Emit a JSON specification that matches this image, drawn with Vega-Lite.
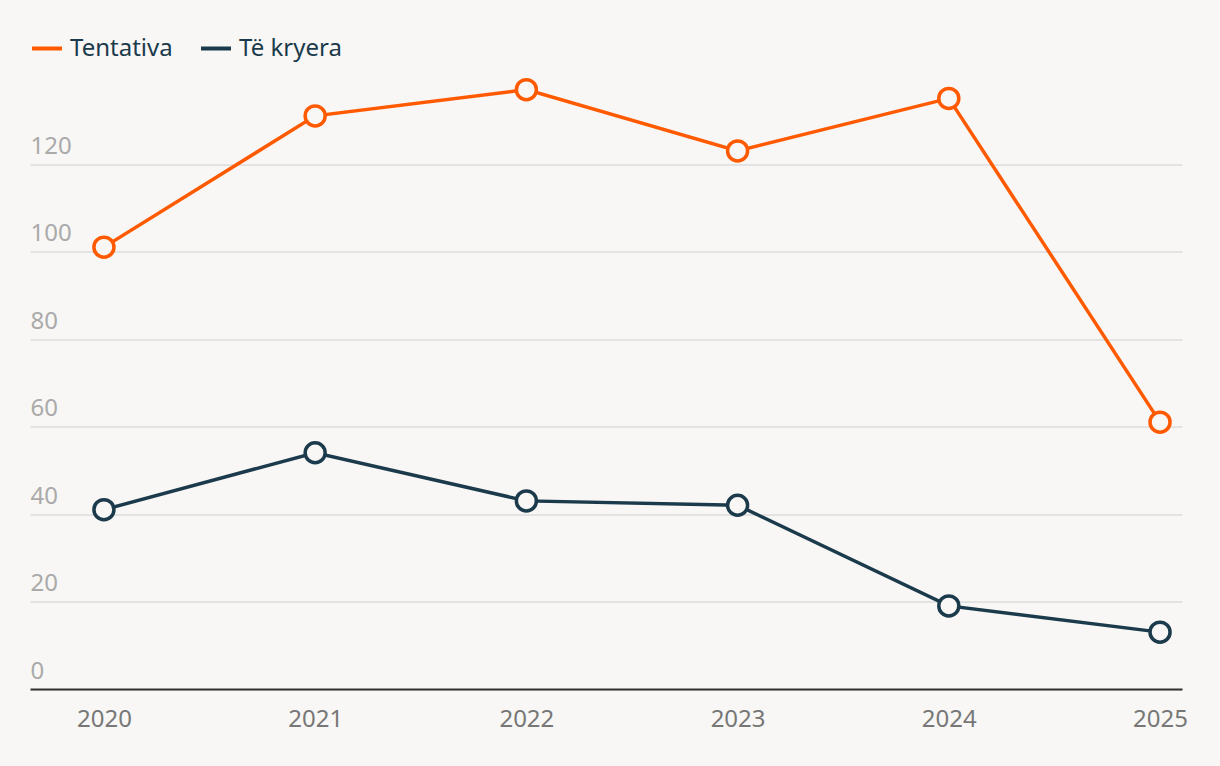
{
  "$schema": "https://vega.github.io/schema/vega-lite/v6.json",
  "autosize": "none",
  "width": 1152,
  "height": 612.5,
  "padding": {"left": 30, "top": 76.5, "right": 38, "bottom": 77},
  "background": "#f8f7f5",
  "config": {
    "view": {"stroke": null},
    "font": "Noto Sans"
  },
  "data": {
    "values": [
      {"year": 2020, "series": "Tentativa", "value": 101},
      {"year": 2021, "series": "Tentativa", "value": 131},
      {"year": 2022, "series": "Tentativa", "value": 137},
      {"year": 2023, "series": "Tentativa", "value": 123},
      {"year": 2024, "series": "Tentativa", "value": 135},
      {"year": 2025, "series": "Tentativa", "value": 61},
      {"year": 2020, "series": "Të kryera", "value": 41},
      {"year": 2021, "series": "Të kryera", "value": 54},
      {"year": 2022, "series": "Të kryera", "value": 43},
      {"year": 2023, "series": "Të kryera", "value": 42},
      {"year": 2024, "series": "Të kryera", "value": 19},
      {"year": 2025, "series": "Të kryera", "value": 13}
    ]
  },
  "encoding": {
    "x": {
      "field": "year",
      "type": "quantitative",
      "scale": {"domain": [2019.65, 2025.104], "nice": false, "zero": false},
      "axis": {
        "values": [2020, 2021, 2022, 2023, 2024, 2025],
        "format": "d",
        "title": null,
        "grid": false,
        "ticks": false,
        "tickSize": 0,
        "domainColor": "#333333",
        "domainWidth": 2,
        "labelColor": "#777777",
        "labelFontSize": 24,
        "labelPadding": 18,
        "labelFlush": false
      }
    },
    "y": {
      "field": "value",
      "type": "quantitative",
      "scale": {"domain": [0, 140], "nice": false},
      "axis": {
        "values": [0, 20, 40, 60, 80, 100, 120],
        "title": null,
        "domain": false,
        "ticks": false,
        "tickSize": 0,
        "grid": true,
        "gridColor": "#dddddd",
        "gridWidth": 1.5,
        "labelColor": "#aaaaaa",
        "labelFontSize": 24,
        "labelAlign": "left",
        "labelBaseline": "alphabetic",
        "labelPadding": 0,
        "labelOffset": -11
      }
    },
    "color": {
      "field": "series",
      "type": "nominal",
      "scale": {"domain": ["Tentativa", "Të kryera"], "range": ["#ff5a00", "#1b3a4b"]},
      "legend": {
        "title": null,
        "orient": "none",
        "legendX": 0,
        "legendY": -45,
        "direction": "horizontal",
        "symbolType": "stroke",
        "symbolStrokeWidth": 4,
        "symbolSize": 900,
        "labelFontSize": 24,
        "labelColor": "#1b3a4b",
        "labelOffset": 6,
        "columnPadding": 20
      }
    }
  },
  "layer": [
    {"mark": {"type": "line", "strokeWidth": 3.5}},
    {"mark": {"type": "point", "filled": false, "fill": "#f8f7f5", "fillOpacity": 1, "opacity": 1, "strokeWidth": 3.5, "size": 400}}
  ]
}
